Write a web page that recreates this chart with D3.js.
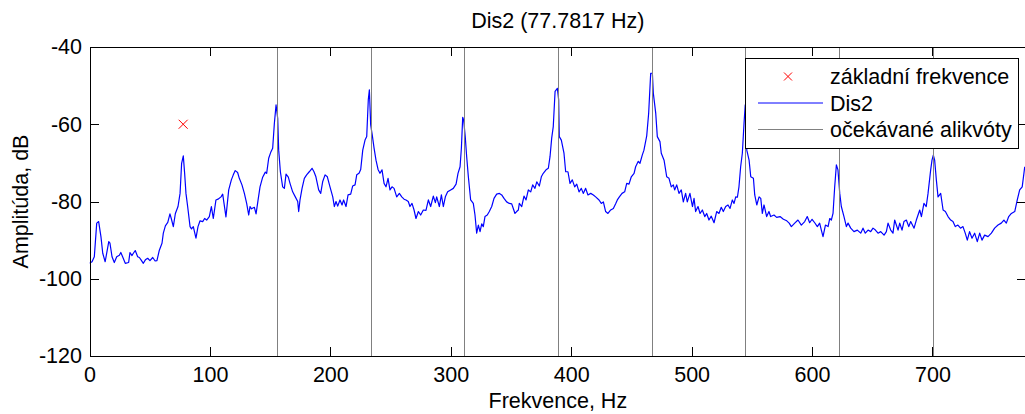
<!DOCTYPE html>
<html><head><meta charset="utf-8">
<script src="https://cdn.jsdelivr.net/npm/d3@7"></script>
<style>
html,body{margin:0;padding:0;background:#fff;}
svg{display:block;font-family:"Liberation Sans",Arial,sans-serif;}
</style></head>
<body>
<svg id="chart" width="1025" height="414"></svg>
<script>
// ---- data ----
const title = "Dis2 (77.7817 Hz)";
const xLabel = "Frekvence, Hz";
const yLabel = "Amplitúda, dB";
const xTicks = [0,100,200,300,400,500,600,700];
const yTicks = [-120,-100,-80,-60,-40];
const legendLabels = ["základní frekvence","Dis2","očekávané alikvóty"];
const fundamental = [77.7817];
const fundamentalMarker = [-60];
const harmonics = [155.5634,233.3451,311.1268,388.9085,466.6902,544.4719,622.2536,700.0353,777.817];
const freq = [0,2.1,4,6,7.6,9.5,11,13,16,17,18.7,20.6,22.6,24.8,26,27.5,29.7,32.5,33.6,35.3,36.4,38,40,41.4,42.8,44.7,46.4,48.3,50.2,52.5,54.5,56,58,60.2,61.3,63,65,66.8,67.9,69.6,71.3,73.5,75.2,76.5,77.9,79,80.1,81.5,83.5,84.7,86.2,88.4,90.1,91.8,94,95.6,97.3,99.5,101.2,102.8,105,106.7,109.2,110.6,111.7,113.3,115.6,117.8,119.4,121,123,124.4,126.6,128.6,130.5,132.2,133.3,134.5,136.9,138.3,140,141.6,143.8,146,147.1,148.8,150.7,152.1,153.5,154.9,156.3,157.1,158.5,160.4,161.8,163.2,165.1,166.5,168.7,170.9,172.9,173.7,174.8,176.5,178.4,180.3,182.5,184.8,186.4,188,190.3,192,193.6,195.6,197.5,199.7,202,203.3,204.7,206.1,208,209.7,211,213,214.7,216.9,218.5,220.5,221.9,223.8,225.2,226.9,228.8,230.2,231.5,232.4,233.5,234.8,236.3,237.9,239.6,241.2,242.9,244.6,246.2,247.9,249.5,251.2,252.9,255.1,257.3,259.3,261.2,262.8,264.7,266.1,267.8,269.5,271.1,273.1,275,277.2,279.4,281.4,283.3,285.5,287.2,288.3,290.5,292.2,293.8,295.5,297.4,299.9,302.1,304.4,306,307.7,308.8,309.9,310.7,312,313.2,314.6,316.5,318.7,320.1,321.5,322.9,324.3,325.7,327,328.4,330.3,332,334,335.9,338.1,340.4,342.3,344.2,346.4,348.6,350.6,351.9,353.3,354.7,356.1,356.9,358.9,360.8,362.5,364.4,366.4,368,369.9,371.4,373.5,375.2,376.8,379.1,381,382.4,383.8,385.1,386.6,388.5,389.6,390.1,391.8,394,395.4,397.3,399,400.9,402.9,404.6,406.5,408.4,410,412,413.9,416.2,418.4,420.3,423.1,425,426.7,428.6,430.5,432.8,435,437,438.3,440,442.2,444.4,446.1,448,449.9,452.2,453.5,455.7,457.1,459,460.4,462.7,464.3,466,467.4,468.2,470.2,471.5,473.7,474.8,477.1,479.3,481.2,483.1,484.8,485.9,487.6,489.5,491.4,493.1,495,496.4,498.6,500.7,502,503.3,505.3,507,508.9,510.9,512.5,514.4,516.3,518.6,520.8,522.7,524.6,526.3,528.3,530.2,531.9,533.8,535.2,536.6,538,539.3,540.7,542.1,543.5,544.5,545.8,547.7,549.1,551.3,552.4,554.1,556,557.4,558.7,560.1,562.3,564.2,565.6,568.4,570.6,573.4,576.2,579,581,582.8,585.6,588.3,591.1,593.9,596,598,600,602.2,604.4,606.3,607.7,609.1,611.1,613.3,614.7,616,617.4,618.8,620.2,621.5,623,624.3,626.5,628.5,629.9,632.1,634.8,637.6,640.4,642.3,644.2,646.5,648.7,650.6,652.6,654.8,657,659.8,661.7,663.1,665.3,667.2,668.6,671.4,672.8,674.7,676.3,678.3,680.3,681.9,684.7,686.6,689.4,690.8,692.9,694.8,696.3,698.5,699.6,700.7,701.8,703.2,704.6,706.8,708.8,710.7,712.9,715.1,717,718.9,721.1,723.3,725.3,727.2,728.9,730.8,732.8,735,737.2,739.2,741.1,743.3,746.1,748.9,751.6,754.4,757.1,759.3,761.3,763.3,765.5,768.3,770.4,772.4,774.5,776.6];
const amp = [-96,-95.6,-94.3,-85.6,-85.2,-89.1,-93.4,-95.6,-90.4,-90.8,-94.3,-95.8,-94.3,-93.9,-93.2,-94.3,-96,-95.8,-93.2,-94,-93.4,-92.7,-94.3,-94.5,-95.1,-96,-95.1,-94.7,-95.3,-94.5,-95.4,-95.3,-92.6,-90.8,-88.2,-86.3,-85.4,-83.2,-84.4,-86.5,-83.1,-81.3,-77.9,-70.1,-68.2,-72.7,-77.9,-81.3,-86.5,-87.1,-86.5,-89.5,-86.5,-85,-85.2,-84.4,-84.8,-83.9,-81.3,-84.4,-79.6,-79.4,-78.8,-78.1,-80.5,-84,-77,-74.4,-73.1,-72,-72.5,-74,-75.7,-77.9,-80.5,-83.5,-81.3,-81.9,-81.5,-83.2,-79.6,-76.2,-73.7,-72.4,-72.7,-68.8,-67.1,-66.2,-59.8,-55,-58.5,-66.7,-72.3,-76.2,-76.6,-72.9,-73.7,-75.3,-77.5,-78.8,-80,-82.6,-79.6,-76.6,-74,-73.1,-72.3,-71.4,-72.3,-73.6,-77,-77.9,-74.9,-73.1,-73.6,-76.2,-78.8,-81.3,-80,-81.2,-79.6,-80.9,-79.6,-81.3,-78.3,-78.1,-76,-75.7,-73.1,-72.7,-71.7,-66.7,-64.1,-63.2,-53.7,-51.1,-60.2,-62.8,-66.2,-69.3,-71.7,-72.7,-71.8,-75.3,-76.2,-74,-77,-76.2,-76.6,-78.8,-77.9,-78.8,-79.4,-79.6,-80,-81.3,-80.5,-82.2,-84.4,-82.6,-83.5,-82.2,-82.3,-79.6,-81.3,-78.6,-80.3,-78.8,-81.3,-78.3,-81.3,-78.8,-77.5,-77,-76.6,-75.5,-72.7,-71,-66.2,-58.2,-58.9,-63.2,-68.4,-73.6,-79.6,-80.5,-83.5,-88.2,-86.1,-87.8,-85.8,-86.5,-83.9,-83.5,-82.6,-81.3,-79.2,-78.1,-77.9,-78.3,-79.2,-80.1,-80.5,-80.6,-81.8,-83.1,-82.6,-82.2,-80.5,-81.3,-78.6,-79.6,-77,-77.5,-75.7,-76.6,-74.9,-76,-73.6,-72.7,-71.8,-71.4,-68.4,-63.6,-60.6,-51.5,-50.7,-53.7,-63.2,-64.1,-67.5,-72.3,-72.3,-75.3,-74.4,-76.2,-75.5,-77.5,-76.6,-77.9,-76.6,-78.3,-77.9,-78.3,-78.8,-79.6,-80.5,-80.1,-82.6,-83.1,-82.2,-81.8,-80.5,-79.6,-78.8,-77.9,-77.5,-75.3,-75.5,-73.6,-72.7,-71,-69.6,-70.1,-68,-66.7,-63,-57.2,-46.8,-46.8,-52,-57.2,-63.2,-64.5,-67.5,-69.3,-73.6,-74,-76.2,-75.7,-77,-75.7,-77.9,-77,-80.1,-77.9,-80.1,-77.9,-81.3,-79.2,-82.6,-81.3,-83.1,-82.2,-83.9,-83.1,-84.8,-83.8,-85.5,-82.6,-83.1,-81.5,-82.6,-81.3,-80.9,-81.8,-79.6,-80.5,-78.8,-78.9,-76.2,-71,-67.5,-59.8,-55,-66.7,-69.3,-73.6,-74,-78.3,-80.9,-78.8,-79.2,-83.1,-80.9,-83.9,-82.6,-83.9,-83.5,-84.1,-83.9,-84.6,-85,-85.6,-86.5,-85.6,-84.8,-86.1,-85.2,-83.9,-85.5,-84.6,-85.5,-86.5,-85.6,-87.4,-89.1,-86.1,-86.5,-84.4,-84.8,-83.1,-76.2,-70.5,-71.8,-77.9,-81.3,-83.9,-86.5,-85.6,-86.9,-87.8,-87.4,-88.2,-86.9,-88.2,-87.4,-87.8,-86.9,-87.4,-88.2,-87.8,-88.7,-87.8,-85.6,-87.4,-88.2,-84.8,-87.4,-85.6,-87.4,-85.2,-84.8,-86.5,-85.2,-86.9,-84.8,-82.2,-83.9,-80.5,-81.3,-77.9,-71.8,-69.3,-68,-69.3,-74.4,-78.8,-77.9,-82.2,-82.6,-83.9,-84.8,-85.2,-86.5,-86.1,-86.9,-86.5,-88.2,-90,-87.8,-89.5,-88.2,-90.4,-88.2,-90,-88.7,-89.1,-88.2,-86.9,-86.1,-85.6,-84.8,-85.6,-83.9,-83.1,-82.6,-79.6,-77,-76.2,-71];

// ---- layout ----
const svg = d3.select("#chart");
const mLeft = 89.5, mRight = 1026.2, mTop = 47, mBottom = 356;
const x = d3.scaleLinear().domain([0, 777.817]).range([mLeft, mRight]);
const y = d3.scaleLinear().domain([-120, -40]).range([mBottom, mTop]);
const FS = 21.5;

svg.append("defs").append("clipPath").attr("id","clip")
  .append("rect").attr("x",mLeft).attr("y",mTop).attr("width",mRight-mLeft).attr("height",mBottom-mTop);

const plot = svg.append("g").attr("clip-path","url(#clip)");

// spectrum line
const n = Math.min(freq.length, amp.length);
const pts = d3.range(n);
const line = d3.line().x(i=>x(freq[i])).y(i=>y(amp[i]));
plot.append("path").datum(pts).attr("d", line)
  .attr("fill","none").attr("stroke","#0000ff").attr("stroke-width",1.2).attr("stroke-linejoin","round");

// fundamental marker
const cross = (g, cx, cy, s, color) => {
  g.append("path").attr("d",`M${cx-s},${cy-s}L${cx+s},${cy+s}M${cx-s},${cy+s}L${cx+s},${cy-s}`)
    .attr("stroke",color).attr("stroke-width",1).attr("fill","none");
};
fundamental.forEach((f,i)=>cross(plot, x(f), y(fundamentalMarker[i]), 4.5, "#ff0000"));

// harmonic lines
plot.selectAll("line.harm").data(harmonics).enter().append("line")
  .attr("class","harm")
  .attr("x1",d=>Math.round(x(d))+0.5).attr("x2",d=>Math.round(x(d))+0.5)
  .attr("y1",mTop).attr("y2",mBottom)
  .attr("stroke","#808080").attr("stroke-width",1);

// axes
const styleAxis = g => {
  g.selectAll("path.domain").attr("stroke","#000").attr("shape-rendering","crispEdges");
  g.selectAll(".tick line").attr("stroke","#000").attr("shape-rendering","crispEdges");
  g.selectAll("text").attr("font-size",FS).attr("font-family","'Liberation Sans',Arial,sans-serif").attr("fill","#000");
};
svg.append("g").attr("transform",`translate(0,${mBottom})`)
  .call(d3.axisBottom(x).tickValues(xTicks).tickSizeInner(-9).tickSizeOuter(0).tickPadding(10.7).tickFormat(d=>String(d)))
  .call(styleAxis);
svg.append("g").attr("transform",`translate(0,${mTop})`)
  .call(d3.axisTop(x).tickValues(xTicks).tickSizeInner(-9).tickSizeOuter(0).tickFormat(""))
  .call(styleAxis);
svg.append("g").attr("transform",`translate(${mLeft},0)`)
  .call(d3.axisLeft(y).tickValues(yTicks).tickSizeInner(-9).tickSizeOuter(0).tickPadding(7.5).tickFormat(d=>String(d)))
  .call(styleAxis);
svg.append("g").attr("transform",`translate(${mRight},0)`)
  .call(d3.axisRight(y).tickValues(yTicks).tickSizeInner(-9).tickSizeOuter(0).tickFormat(""))
  .call(styleAxis);

// title and labels
svg.append("text").attr("x",(mLeft+mRight)/2).attr("y",28).attr("text-anchor","middle")
  .attr("font-size",FS).text(title);
svg.append("text").attr("x",(mLeft+mRight)/2).attr("y",408).attr("text-anchor","middle")
  .attr("font-size",FS).text(xLabel);
svg.append("text").attr("transform",`translate(28,${(mTop+mBottom)/2}) rotate(-90)`).attr("text-anchor","middle")
  .attr("font-size",FS).text(yLabel);

// legend
const lg = svg.append("g");
lg.append("rect").attr("x",745.5).attr("y",58.5).attr("width",273).attr("height",90)
  .attr("fill","#fff").attr("stroke","#000").attr("stroke-width",1);
const rows = [76.5, 103, 129.5];
cross(lg, 788, rows[0], 4, "#ff0000");
lg.append("line").attr("x1",758).attr("x2",823).attr("y1",rows[1]).attr("y2",rows[1]).attr("stroke","#0000ff").attr("stroke-width",1);
lg.append("line").attr("x1",758).attr("x2",823).attr("y1",rows[2]).attr("y2",rows[2]).attr("stroke","#808080").attr("stroke-width",1);
legendLabels.forEach((t,i)=>{
  lg.append("text").attr("x",830).attr("y",rows[i]+7.5).attr("font-size",FS).text(t);
});
</script>
</body></html>
